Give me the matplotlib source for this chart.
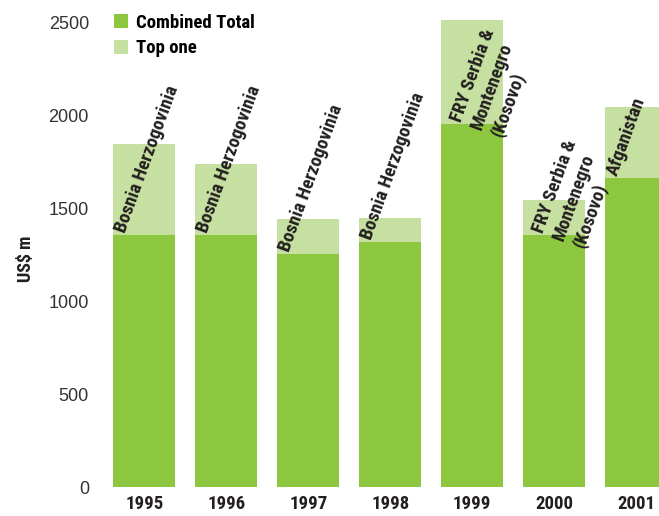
import matplotlib
matplotlib.use("Agg")
import matplotlib.pyplot as plt
from matplotlib import font_manager

# data (US$ m)
years = ["1995", "1996", "1997", "1998", "1999", "2000", "2001"]
combined_total = [1358, 1358, 1255, 1320, 1956, 1358, 1665]
top_one = [1848, 1740, 1444, 1449, 2516, 1546, 2047]
top_country = ["Bosnia Herzogovinia", "Bosnia Herzogovinia", "Bosnia Herzogovinia",
               "Bosnia Herzogovinia", "FRY Serbia &\nMontenegro\n(Kosovo)",
               "FRY Serbia &\nMontenegro\n(Kosovo)", "Afganistan"]

dark_green = "#8DC63F"
light_green = "#C5E0A0"
txt = "#231F20"

# a condensed bold face if one is installed
names = {f.name for f in font_manager.fontManager.ttflist}
narrow = [n for n in ["Liberation Sans Narrow", "Roboto Condensed", "Open Sans Condensed",
                      "DejaVu Sans Condensed"] if n in names] + ["DejaVu Sans"]
bold_font = dict(family=narrow, weight="bold", stretch="condensed")

fig = plt.figure(figsize=(6.59, 5.16), dpi=100)
ax = fig.add_axes([100 / 659, 29 / 516, 559 / 659, 483 / 516])

x = list(range(len(years)))
extra = [t - c for t, c in zip(top_one, combined_total)]
b1 = ax.bar(x, combined_total, width=0.755, color=dark_green, label="Combined Total")
b2 = ax.bar(x, extra, bottom=combined_total, width=0.755, color=light_green, label="Top one")

# country names rotated above the dark part of each bar
for i, name in enumerate(top_country):
    if "\n" in name:
        ax.text(i - 0.30, combined_total[i] + 30, name, rotation=70, rotation_mode="anchor",
                ha="left", va="top", fontsize=13.5, color=txt,
                linespacing=1.25, multialignment="left", **bold_font)
    else:
        ax.text(i - 0.19, combined_total[i], name, rotation=70, rotation_mode="anchor",
                ha="left", va="bottom", fontsize=13.5, color=txt, **bold_font)

ax.set_xlim(-0.54, 6.28)
ax.set_ylim(0, 2600)
ax.set_yticks([0, 500, 1000, 1500, 2000, 2500])
ax.set_xticks(x)
ax.set_xticklabels(years, fontsize=13.5, color=txt, **bold_font)
ax.tick_params(axis="y", length=0, pad=8, labelsize=13, labelcolor="#333333")
ax.tick_params(axis="x", length=0, pad=6)
for lbl in ax.get_yticklabels():
    lbl.set_family(["Liberation Sans", "DejaVu Sans"])
for s in ax.spines.values():
    s.set_visible(False)

fig.text(26 / 659, 1 - 259 / 516, "US$ m", rotation=90, ha="center", va="center",
         fontsize=13, color=txt, **bold_font)

ax.legend(handles=[b1, b2], loc="upper left", bbox_to_anchor=(97 / 659, 1.0 + 3 / 516),
          bbox_transform=fig.transFigure, frameon=False, handlelength=0.75, handleheight=0.75,
          handletextpad=0.45, labelspacing=0.4,
          prop={"family": narrow, "weight": "bold", "stretch": "condensed", "size": 13.5})

fig.savefig("out.png", dpi=100)
